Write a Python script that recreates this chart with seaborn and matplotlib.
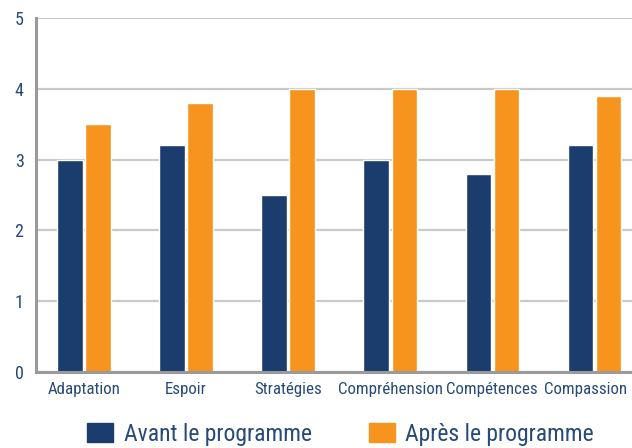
import matplotlib
matplotlib.use("Agg")
import matplotlib.pyplot as plt
import matplotlib.patches as mpatches
import matplotlib.transforms as mtransforms
from matplotlib import font_manager
import pandas as pd
import seaborn as sns

# data
categories = ["Adaptation", "Espoir", "Stratégies", "Compréhension", "Compétences", "Compassion"]
avant = [3.0, 3.2, 2.5, 3.0, 2.8, 3.2]
apres = [3.5, 3.8, 4.0, 4.0, 4.0, 3.9]
series = ["Avant le programme", "Après le programme"]
y_ticks = [0, 1, 2, 3, 4, 5]

BLUE = "#1b3d6d"
ORANGE = "#f7941d"
TEXT = "#274a78"

df = pd.DataFrame({
    "categorie": categories * 2,
    "score": avant + apres,
    "periode": [series[0]] * len(categories) + [series[1]] * len(categories),
})

# the reference uses a condensed sans; take whichever narrow face is around
installed = {f.name for f in font_manager.fontManager.ttflist}
narrow = [n for n in ["Liberation Sans Narrow", "DejaVu Sans Condensed", "Roboto Condensed",
                      "Open Sans Condensed", "Noto Sans Condensed"] if n in installed]
condensed = len(narrow) > 0

sns.set_style("white")
plt.rcParams["font.family"] = narrow + ["Liberation Sans", "DejaVu Sans"]
if not condensed:
    plt.rcParams["font.stretch"] = "condensed"

tick_size = 12.2 if condensed else 10.5
legend_size = 17 if condensed else 15

fig = plt.figure(figsize=(6.32, 4.48), dpi=100)
ax = fig.add_axes([36 / 632, 76 / 448, 1 - 36 / 632, 354 / 448])

sns.barplot(data=df, x="categorie", y="score", hue="periode", order=categories,
            hue_order=series, palette=[BLUE, ORANGE], width=0.55, gap=0.1,
            saturation=1, ax=ax, legend=False)

ax.set_ylim(0, 5)
ax.set_xlim(-0.47, 5.37)
ax.set_yticks(y_ticks)
ax.yaxis.grid(True, color="#c9c9c9", linewidth=1.6)
ax.set_axisbelow(True)
ax.set_xlabel("")
ax.set_ylabel("")

for side in ["top", "right"]:
    ax.spines[side].set_visible(False)
for side in ["left", "bottom"]:
    ax.spines[side].set_color("#9a9a9a")
    ax.spines[side].set_linewidth(2.2)

ax.tick_params(axis="both", length=0, labelsize=tick_size, colors=TEXT)
ax.tick_params(axis="y", pad=9, labelsize=13)
ax.tick_params(axis="x", pad=7)

# last label sits on the right edge; nudge it left so it stays readable
last = ax.get_xticklabels()[-1]
last.set_transform(last.get_transform() + mtransforms.ScaledTranslation(-6 / 72, 0, fig.dpi_scale_trans))

handles = [mpatches.Patch(color=BLUE, label=series[0]),
           mpatches.Patch(color=ORANGE, label=series[1])]
fig.legend(handles=handles, loc="center", bbox_to_anchor=(0.539, 0.03),
           ncol=2, frameon=False, fontsize=legend_size, labelcolor=TEXT,
           handlelength=1.1, handleheight=0.85, handletextpad=0.45,
           columnspacing=2.4)

fig.savefig("out.png", dpi=100)
